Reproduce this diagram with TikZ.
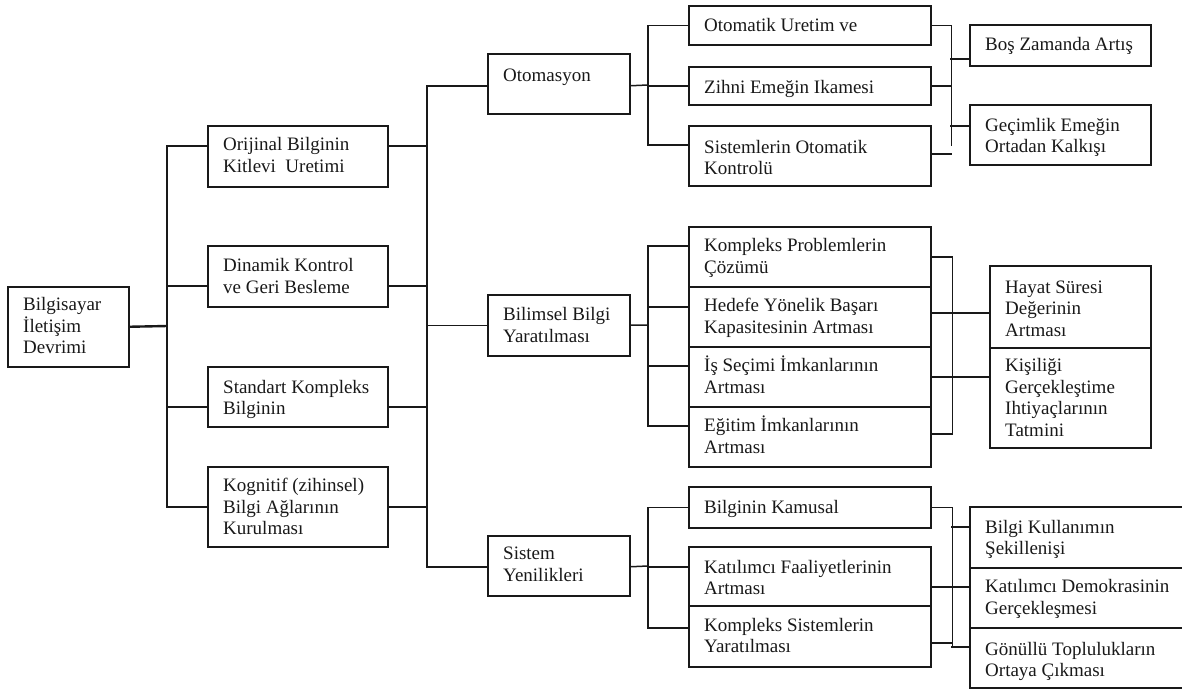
\documentclass[tikz,border=0pt]{standalone}
\usepackage{fontspec}
\setmainfont{Liberation Serif}
\usetikzlibrary{calc}

\tikzset{
  box/.style={draw=black!90, line width=1.5pt, rectangle, inner sep=0pt, anchor=north west},
  txt/.style={inner sep=0pt, anchor=base west, font=\fontsize{19}{21.7}\selectfont, text=black!90},
  conn/.style={draw=black!90, line width=1.5pt},
}

% \bx{name}{x}{y}{width}{height}{baseline offset}{text}
\newcommand\bx[7]{%
  \node[box, minimum width=#4, minimum height=#5] (#1) at (#2,#3) {};
  \node[txt] (#1-t) at ($(#1.north west)+(16,#6)$) {\parbox[t]{300pt}{\raggedright #7}};
}

\begin{document}
\begin{tikzpicture}[x=1pt, y=-1pt]
\useasboundingbox (0,0) rectangle (1182,688);
\clip (0,0) rectangle (1182,688);
\fill[white] (0,0) rectangle (1182,688);

% root
\bx{root}{7}{286}{121}{80}{24.5}{Bilgisayar\\İletişim\\Devrimi}

% level 1
\bx{orij}{207}{125}{180}{61}{25.5}{Orijinal Bilginin\\Kitlevi\ \ Uretimi}
\bx{din}{207}{245}{180}{61}{26.5}{Dinamik Kontrol\\ve Geri Besleme}
\bx{std}{207}{366}{180}{60}{27}{Standart Kompleks\\Bilginin}
\bx{kog}{207}{466}{180}{80}{25.5}{Kognitif (zihinsel)\\Bilgi Ağlarının\\Kurulması}

% level 2
\bx{oto}{487}{53}{142}{60}{28}{Otomasyon}
\bx{bil}{487}{294}{142}{61}{26.5}{Bilimsel Bilgi\\Yaratılması}
\bx{sis}{487}{535}{142}{60}{24.5}{Sistem\\Yenilikleri}

% level 3
\bx{otoA}{688}{5}{242}{39}{26.5}{Otomatik Uretim ve}
\bx{otoB}{688}{66}{242}{38}{27}{Zihni Emeğin Ikamesi}
\bx{otoC}{688}{125}{242}{60}{28}{Sistemlerin Otomatik\\Kontrolü}
\bx{bilA}{688}{226}{242}{60}{25.5}{Kompleks Problemlerin\\Çözümü}
\bx{bilB}{688}{286}{242}{60}{25.5}{Hedefe Yönelik Başarı\\Kapasitesinin Artması}
\bx{bilC}{688}{346}{242}{60}{25.5}{İş Seçimi İmkanlarının\\Artması}
\bx{bilD}{688}{406}{242}{60}{25.5}{Eğitim İmkanlarının\\Artması}
\bx{sisA}{688}{486}{242}{41}{27}{Bilginin Kamusal}
\bx{sisB}{688}{546}{242}{59}{27}{Katılımcı Faaliyetlerinin\\Artması}
\bx{sisC}{688}{605}{242}{61}{26}{Kompleks Sistemlerin\\Yaratılması}

% level 4
\bx{bos}{969}{24}{181}{41}{26}{Boş Zamanda Artış}
\bx{gec}{969}{104}{181}{60}{27}{Geçimlik Emeğin\\Ortadan Kalkışı}
\bx{hay}{989}{265}{161}{82}{28}{Hayat Süresi\\Değerinin\\Artması}
\bx{kis}{989}{347}{161}{100}{24.5}{Kişiliği\\Gerçekleştime\\Ihtiyaçlarının\\Tatmini}
\bx{bku}{969}{506}{230}{61}{27}{Bilgi Kullanımın\\Şekillenişi}
\bx{kat}{969}{567}{230}{60}{25.5}{Katılımcı Demokrasinin\\Gerçekleşmesi}
\bx{gon}{969}{627}{230}{60}{28}{Gönüllü Toplulukların\\Ortaya Çıkması}

% root -> level 1
\coordinate (j1) at (167,326);
\draw[conn, line width=2.4pt] (root.east) -- (j1);
\draw[conn] ([yshift=10.5pt]orij.west) -| (j1);
\draw[conn] ([yshift=-9.5pt]din.west) -| (j1);
\draw[conn] ([yshift=-10pt]std.west) -| (j1);
\draw[conn] (kog.west) -| (j1);

% level 1 -> level 2
\coordinate (j2) at (427,325);
\draw[conn] ([yshift=10.5pt]orij.east) -| (j2);
\draw[conn] ([yshift=-9.5pt]din.east) -| (j2);
\draw[conn] ([yshift=-10pt]std.east) -| (j2);
\draw[conn] (kog.east) -| (j2);
\draw[conn] ([yshift=-2pt]oto.west) -| (j2);
\draw[conn] (bil.west) -| (j2);
\draw[conn] ([yshift=-1pt]sis.west) -| (j2);

% Otomasyon -> level 3
\coordinate (j3o) at (648,85);
\draw[conn] ([yshift=-2pt]oto.east) -- (j3o);
\draw[conn] (otoA.west) -| (j3o);
\draw[conn] (otoB.west) -| (j3o);
\draw[conn] ([yshift=11pt]otoC.west) -| (j3o);

% Bilimsel -> level 3
\coordinate (j3b) at (648,325);
\draw[conn] (bil.east) -- (j3b);
\draw[conn] ([yshift=11pt]bilA.west) -| (j3b);
\draw[conn] ([yshift=10pt]bilB.west) -| (j3b);
\draw[conn] ([yshift=11pt]bilC.west) -| (j3b);
\draw[conn] ([yshift=11pt]bilD.west) -| (j3b);

% Sistem -> level 3
\coordinate (j3s) at (648,566);
\draw[conn] ([yshift=-1pt]sis.east) -- (j3s);
\draw[conn] (sisA.west) -| (j3s);
\draw[conn] ([yshift=9.5pt]sisB.west) -| (j3s);
\draw[conn] ([yshift=8.5pt]sisC.west) -| (j3s);

% Otomasyon group -> level 4
\draw[conn] (otoA.east) -- ++(20,0) coordinate (kO) -- ++(0,121);
\draw[conn] (otoB.east) -- ++(20,0);
\draw[conn] ([yshift=2pt]otoC.east) -- ++(20,0);
\draw[conn] ([yshift=-13.5pt]bos.west) -- ++(-19,0);
\draw[conn] ([yshift=9pt]gec.west) -- ++(-19,0);

% Bilimsel group -> level 4 (bracket)
\draw[conn] (bilA.east) -- ++(21,0) -- ++(0,177) -- ++(-21,0);
\draw[conn] ([yshift=4pt]bilB.east) -- ([yshift=-6pt]hay.west);
\draw[conn] (bilC.east) -- ([yshift=21pt]kis.west);

% Sistem group -> level 4
\draw[conn] (sisA.east) -- ++(21,0) coordinate (kS) -- ++(0,138.5);
\draw[conn] ([yshift=-10.5pt]sisB.east) -- ([yshift=11pt]kat.west);
\draw[conn] ([yshift=-6.5pt]sisC.east) -- ++(21,0);
\draw[conn] ([yshift=10.5pt]bku.west) -- ++(-18,0);
\draw[conn] ([yshift=11pt]gon.west) -- ++(-18,0);
\end{tikzpicture}
\end{document}
